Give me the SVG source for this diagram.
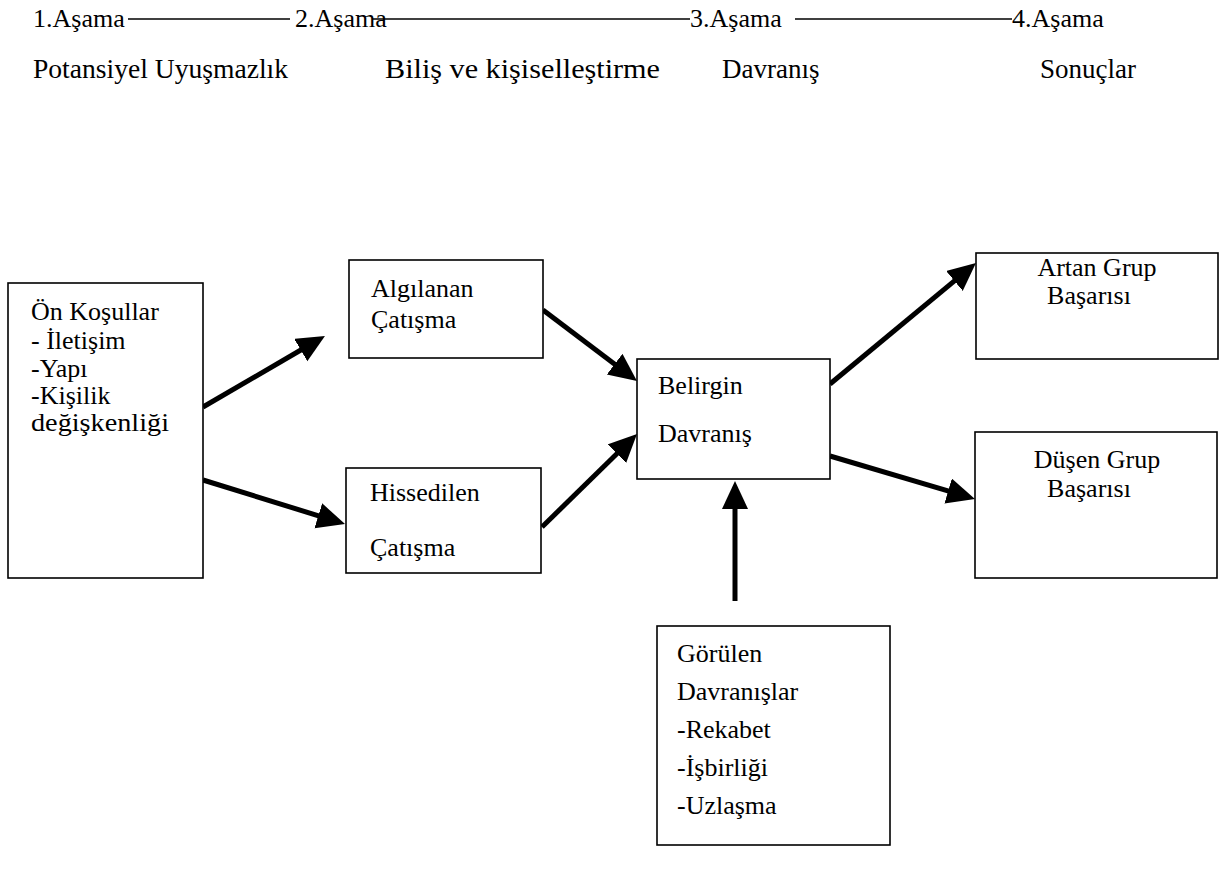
<svg xmlns="http://www.w3.org/2000/svg" width="1228" height="872" viewBox="0 0 1228 872" font-family="'Liberation Serif', 'DejaVu Serif', serif">
  <style>
    text { font-family: 'Liberation Serif', 'DejaVu Serif', serif; fill: #000; }
    .hd { font-size: 26px; }
    .sub { font-size: 27px; }
    .lb { font-size: 26px; }
    .box { fill: #fff; stroke: #000; stroke-width: 1.6; }
    .rule { stroke: #000; stroke-width: 1.5; }
    .arrow { stroke: #000; stroke-width: 5; fill: none; marker-end: url(#head); }
  </style>
  <defs>
    <marker id="head" markerUnits="userSpaceOnUse" markerWidth="30" markerHeight="28" refX="13" refY="13" orient="auto">
      <path d="M0,0 L28,13 L0,26 Z" fill="#000"/>
    </marker>
  </defs>
  <rect width="1228" height="872" fill="#fff"/>

  <!-- stage header -->
  <g id="stages">
    <text class="hd" x="33" y="27">1.Aşama</text>
    <line class="rule" x1="128" y1="19" x2="290" y2="19"/>
    <text class="hd" x="295" y="27">2.Aşama</text>
    <line class="rule" x1="372" y1="19" x2="690" y2="19"/>
    <text class="hd" x="690" y="27">3.Aşama</text>
    <line class="rule" x1="795" y1="19" x2="1012" y2="19"/>
    <text class="hd" x="1012" y="27">4.Aşama</text>
    <text class="sub" x="33" y="78" textLength="255" lengthAdjust="spacingAndGlyphs">Potansiyel Uyuşmazlık</text>
    <text class="sub" x="385" y="78" textLength="275" lengthAdjust="spacingAndGlyphs">Biliş ve kişiselleştirme</text>
    <text class="sub" x="722" y="78">Davranış</text>
    <text class="sub" x="1040" y="78">Sonuçlar</text>
  </g>

  <!-- connectors -->
  <g id="connectors">
    <line class="arrow" x1="203" y1="407" x2="312" y2="343.5"/>
    <line class="arrow" x1="203" y1="480" x2="330.7" y2="519.6"/>
    <line class="arrow" x1="543" y1="310" x2="625" y2="372"/>
    <line class="arrow" x1="542" y1="527" x2="626.3" y2="444.5"/>
    <line class="arrow" x1="830" y1="384" x2="964.4" y2="272.6"/>
    <line class="arrow" x1="830" y1="456" x2="960.6" y2="494.7"/>
    <line class="arrow" x1="735" y1="601" x2="735" y2="496"/>
  </g>

  <g id="on-kosullar">
    <rect class="box" x="8" y="283" width="195" height="295"/>
    <text class="lb" x="31" y="320">Ön Koşullar</text>
    <text class="lb" x="31" y="349">- İletişim</text>
    <text class="lb" x="31" y="377">-Yapı</text>
    <text class="lb" x="31" y="404">-Kişilik</text>
    <text class="lb" x="31" y="431" textLength="138" lengthAdjust="spacingAndGlyphs">değişkenliği</text>
  </g>

  <g id="algilanan">
    <rect class="box" x="349" y="260" width="194" height="98"/>
    <text class="lb" x="371" y="297">Algılanan</text>
    <text class="lb" x="371" y="328">Çatışma</text>
  </g>

  <g id="hissedilen">
    <rect class="box" x="346" y="468" width="195" height="105"/>
    <text class="lb" x="370" y="501">Hissedilen</text>
    <text class="lb" x="370" y="556">Çatışma</text>
  </g>

  <g id="belirgin">
    <rect class="box" x="637" y="359" width="193" height="120"/>
    <text class="lb" x="658" y="394">Belirgin</text>
    <text class="lb" x="658" y="442">Davranış</text>
  </g>

  <g id="artan">
    <rect class="box" x="976" y="253" width="242" height="106"/>
    <text class="lb" x="1097" y="276" text-anchor="middle" font-size="27">Artan Grup</text>
    <text class="lb" x="1089" y="304" text-anchor="middle" font-size="27">Başarısı</text>
  </g>

  <g id="dusen">
    <rect class="box" x="975" y="432" width="242" height="146"/>
    <text class="lb" x="1097" y="468" text-anchor="middle">Düşen Grup</text>
    <text class="lb" x="1089" y="497" text-anchor="middle">Başarısı</text>
  </g>

  <g id="gorulen">
    <rect class="box" x="657" y="626" width="233" height="219"/>
    <text class="lb" x="677" y="662">Görülen</text>
    <text class="lb" x="677" y="700">Davranışlar</text>
    <text class="lb" x="677" y="738">-Rekabet</text>
    <text class="lb" x="677" y="776">-İşbirliği</text>
    <text class="lb" x="677" y="814">-Uzlaşma</text>
  </g>
</svg>
